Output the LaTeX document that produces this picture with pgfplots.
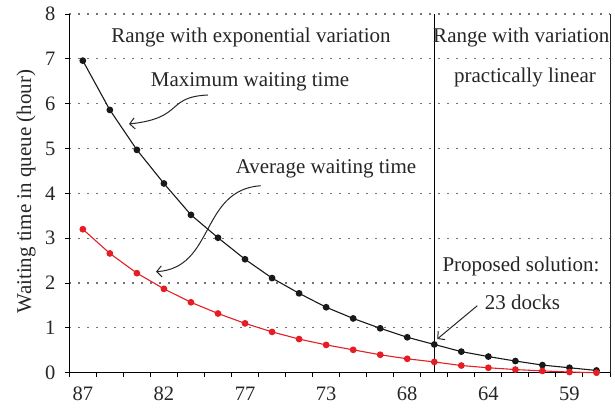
\documentclass[border=0pt]{standalone}
\usepackage{fontspec}
\setmainfont{Liberation Serif}
\usepackage{pgfplots}
\pgfplotsset{compat=1.18}
\usetikzlibrary{arrows.meta}
\definecolor{myred}{RGB}{228,30,36}
\definecolor{myblack}{RGB}{25,25,25}
\begin{document}
\begin{tikzpicture}
\begin{axis}[
  scale only axis, width=540.7pt, height=358.7pt,
  xmin=-0.5, xmax=19.5, ymin=0, ymax=8,
  axis x line*=bottom, axis y line*=left,
  axis line style={line width=1.6pt, -},
  tick align=outside,
  xtick={-0.5,0.5,...,19.5}, xticklabels={},
  extra x ticks={0,3,...,18},
  extra x tick labels={87,82,77,73,68,64,59},
  extra x tick style={major tick length=0pt, xticklabel style={yshift=-11pt}},
  ytick={0,1,...,8},
  yticklabel style={xshift=-6pt},
  major tick length=4.5pt,
  tick style={line width=1pt, black},
  ymajorgrids,
  major grid style={dash pattern=on 1.3pt off 7.7pt, line width=1.2pt, black!55},
  tick label style={font=\fontsize{20.5}{24}\selectfont, text=black!85},
  /pgf/number format/assume math mode=true,
  clip=false,
]
\addplot[myblack, line width=1.1pt, mark=*, mark size=2.8pt, mark options={fill=myblack, draw=myblack}] coordinates {
(0,6.96) (1,5.86) (2,4.97) (3,4.22) (4,3.52) (5,3.01) (6,2.53) (7,2.11) (8,1.77) (9,1.46)
(10,1.21) (11,0.99) (12,0.79) (13,0.63) (14,0.47) (15,0.36) (16,0.26) (17,0.17) (18,0.11) (19,0.05)};
\addplot[myred, line width=1.1pt, mark=*, mark size=2.8pt, mark options={fill=myred, draw=myred}] coordinates {
(0,3.20) (1,2.66) (2,2.22) (3,1.87) (4,1.57) (5,1.32) (6,1.10) (7,0.91) (8,0.75) (9,0.62)
(10,0.51) (11,0.40) (12,0.31) (13,0.24) (14,0.16) (15,0.11) (16,0.07) (17,0.04) (18,0.015) (19,0.0)};
\draw[black, line width=1pt] (axis cs:13,0) -- (axis cs:13,8);
\draw[black!85, line width=1pt] (rel axis cs:1,0) -- (rel axis cs:1,1);
\end{axis}
\begin{scope}[every node/.style={font=\fontsize{21}{25}\selectfont, inner sep=0pt, text=black!85}]
\node[anchor=base] at (181.7pt,330pt) {Range with exponential variation};
\node[anchor=base] at (452pt,330pt) {Range with variation};
\node[anchor=base] at (455.7pt,290pt) {practically linear};
\node[anchor=base] at (180.7pt,285.7pt) {Maximum waiting time};
\node[anchor=base] at (256.7pt,199.4pt) {Average waiting time};
\node[anchor=base] at (451.7pt,101pt) {Proposed solution:};
\node[anchor=base] at (453.2pt,62.7pt) {23 docks};
\node[rotate=90] at (-43.3pt,181.2pt) {Waiting time in queue (hour)};
\end{scope}
\begin{scope}[line width=1pt, black!85, -{Straight Barb[length=5pt,width=11pt]}]
\draw (138.7pt,277.7pt) .. controls (95.7pt,275.7pt) and (115.7pt,254.7pt) .. (59.7pt,248.7pt);
\draw (191.4pt,187pt) .. controls (130.7pt,182.7pt) and (145.7pt,104.7pt) .. (86.7pt,101pt);
\draw (408pt,67pt) -- (368pt,33.7pt);
\end{scope}
\pgfresetboundingbox
\path (-69.3pt,-36.3pt) rectangle (545.7pt,372.7pt);
\end{tikzpicture}
\end{document}
